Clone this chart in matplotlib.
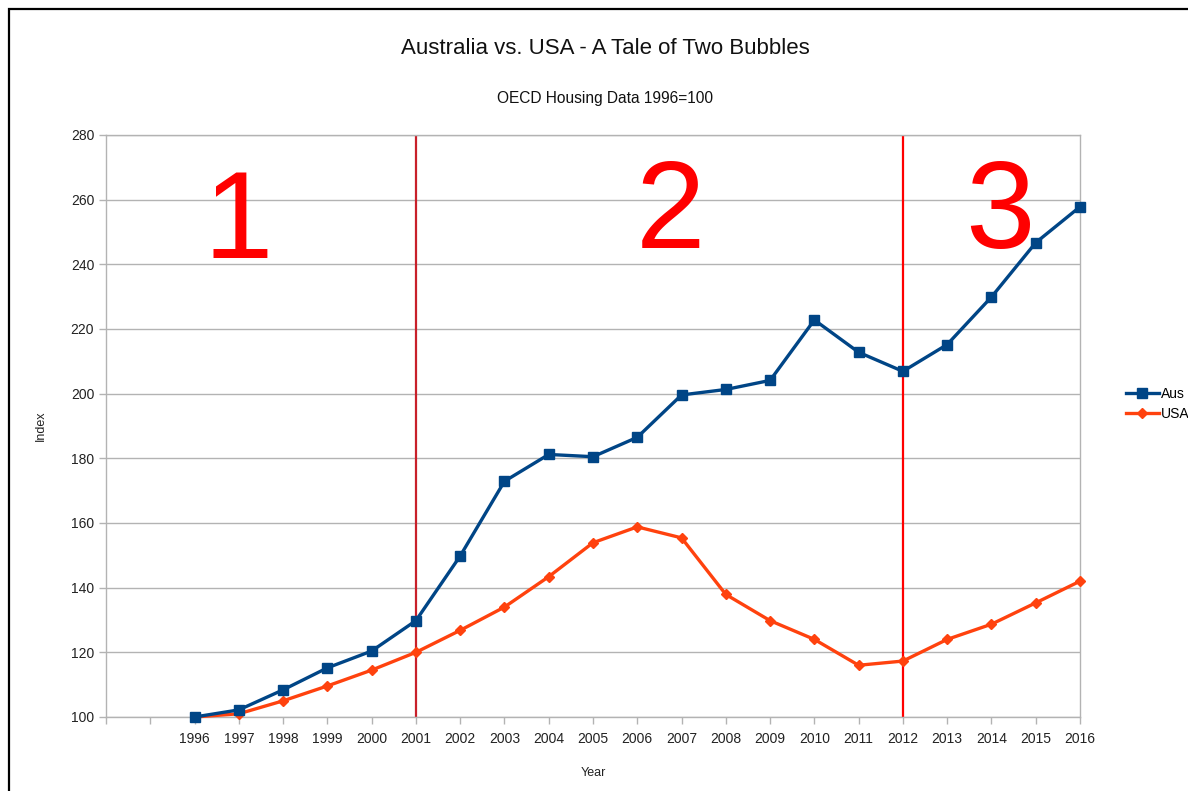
import matplotlib
matplotlib.use("Agg")
import matplotlib.pyplot as plt
from matplotlib.patches import Rectangle

plt.rcParams['font.family'] = ['Liberation Sans', 'DejaVu Sans']

years = list(range(1996, 2017))
aus = [100.0, 102.2, 108.4, 115.2, 120.4, 129.8, 149.8, 172.9, 181.2, 180.5, 186.5,
       199.6, 201.3, 204.1, 222.8, 212.8, 206.9, 215.2, 229.9, 246.7, 257.8]
usa = [100.0, 101.0, 105.0, 109.6, 114.5, 120.0, 126.8, 134.0, 143.4, 153.9, 158.8,
       155.4, 137.9, 129.8, 124.0, 116.0, 117.3, 124.0, 128.7, 135.3, 142.0]
phase_breaks = [2001, 2012]
phase_colors = ['#c8202a', '#ff0000']
phase_labels = ['1', '2', '3']
phase_label_pos = [(1996.98, 252), (2006.76, 255), (2014.2, 255)]

title = 'Australia vs. USA - A Tale of Two Bubbles'
subtitle = 'OECD Housing Data 1996=100'

W, H = 1188, 791
fig = plt.figure(figsize=(W / 100, H / 100), dpi=100)
fig.patch.set_facecolor('white')

left, right, top, bottom = 106, 1080, 135, 717
ax = fig.add_axes([left / W, 1 - bottom / H, (right - left) / W, (bottom - top) / H])

grid_c = '#b3b3b3'
ax.set_xlim(1994, 2016)
ax.set_ylim(100, 280)
ax.set_yticks(range(100, 281, 20))
ax.set_xticks(range(1994, 2017))
ax.set_xticklabels(['' if y < 1996 else str(y) for y in range(1994, 2017)])
ax.grid(axis='y', color=grid_c, linewidth=1)
ax.set_axisbelow(True)
for s in ax.spines.values():
    s.set_color(grid_c)
    s.set_linewidth(1)
ax.tick_params(axis='both', color=grid_c, length=5, width=1, labelsize=10,
               labelcolor='#222222', direction='out')
ax.tick_params(axis='x', pad=6)

for xb, c in zip(phase_breaks, phase_colors):
    ax.axvline(xb, color=c, linewidth=1.6, zorder=2)

ax.plot(years, aus, color='#004586', linewidth=2.4, marker='s', markersize=7,
        label='Aus', zorder=4, clip_on=False)
ax.plot(years, usa, color='#ff420e', linewidth=2.4, marker='D', markersize=5.5,
        label='USA', zorder=3, clip_on=False)

for lab, (px, py) in zip(phase_labels, phase_label_pos):
    ax.text(px, py, lab, color='#ff0000', fontsize=90, ha='center', va='center',
            zorder=5)

ax.set_ylabel('Index', fontsize=9, color='#222222', labelpad=17)
ax.set_xlabel('Year', fontsize=9, color='#222222', labelpad=15)

fig.text(605 / W, 1 - 48 / H, title, fontsize=16, ha='center', va='center',
         color='#111111')
fig.text(605 / W, 1 - 99 / H, subtitle, fontsize=11.2, ha='center', va='center',
         color='#111111')

leg = fig.legend(loc='center left', bbox_to_anchor=(1120 / W, 1 - 404 / H),
                 frameon=False, fontsize=10, handlelength=2.4, handletextpad=0.15,
                 labelspacing=0.45, borderaxespad=0)

fig.patches.append(Rectangle((9 / W, -0.1), 1.2, 1 - 9 / H + 0.1,
                             transform=fig.transFigure, fill=False,
                             edgecolor='black', linewidth=1.6))

fig.savefig('out.png', dpi=100)
